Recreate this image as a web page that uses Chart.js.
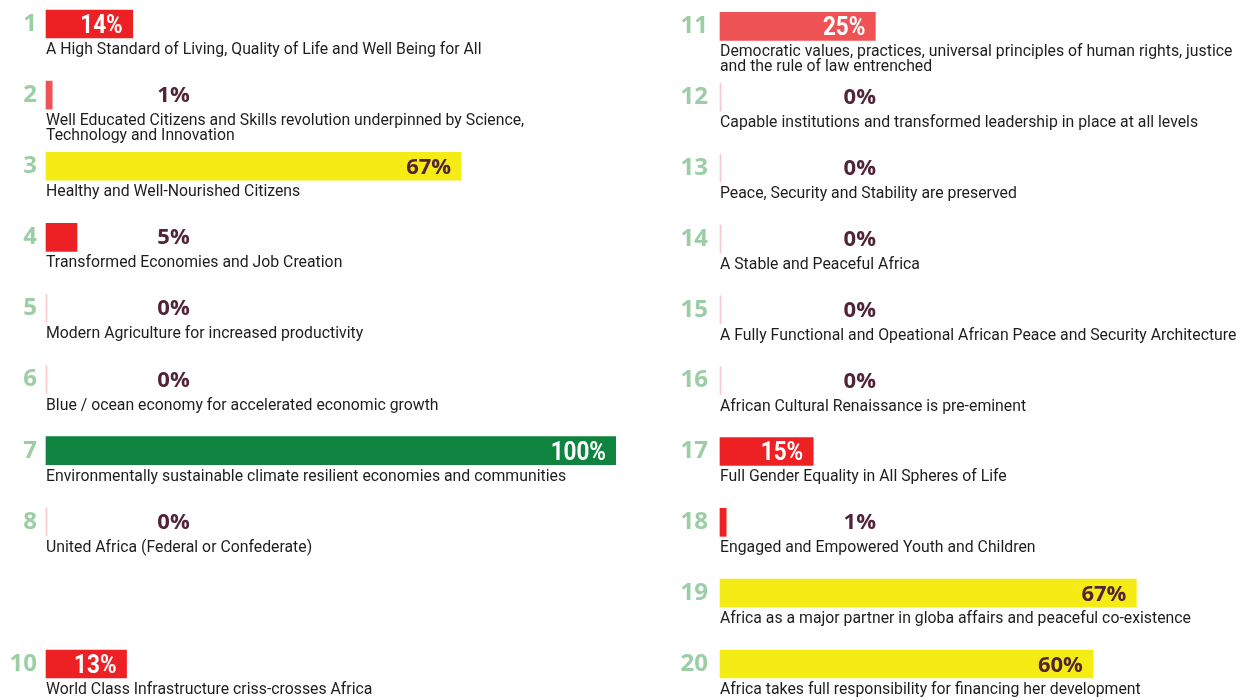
<!DOCTYPE html>
<html>
<head>
<meta charset="utf-8">
<script src="https://cdn.jsdelivr.net/npm/chart.js@4.4.1/dist/chart.umd.min.js"></script>
<style>
  html, body { margin: 0; padding: 0; background: #fff; }
  #wrap { position: relative; width: 1252px; height: 699px; overflow: hidden; }
  .col { position: absolute; top: 0; width: 626px; height: 699px; }
  #colLeft { left: 0; }
  #colRight { left: 626px; }
</style>
</head>
<body>
<div id="wrap">
  <div class="col" id="colLeft"><canvas id="leftChart"></canvas></div>
  <div class="col" id="colRight"><canvas id="rightChart"></canvas></div>
</div>
<script>
// ==================== DATA ====================
// goal 9 has no figure, so its row stays empty
const leftGoals = ['1', '2', '3', '4', '5', '6', '7', '8', '9', '10'];
const leftProgress = [14, 1, 67, 5, 0, 0, 100, 0, null, 13];
const leftTexts = [
    'A High Standard of Living, Quality of Life and Well Being for All',
    'Well Educated Citizens and Skills revolution underpinned by Science,\nTechnology and Innovation',
    'Healthy and Well-Nourished Citizens',
    'Transformed Economies and Job Creation',
    'Modern Agriculture for increased productivity',
    'Blue / ocean economy for accelerated economic growth',
    'Environmentally sustainable climate resilient economies and communities',
    'United Africa (Federal or Confederate)',
    '',
    'World Class Infrastructure criss-crosses Africa'
];

const rightGoals = ['11', '12', '13', '14', '15', '16', '17', '18', '19', '20'];
const rightProgress = [25, 0, 0, 0, 0, 0, 15, 1, 67, 60];
const rightTexts = [
    'Democratic values, practices, universal principles of human rights, justice\nand the rule of law entrenched',
    'Capable institutions and transformed leadership in place at all levels',
    'Peace, Security and Stability are preserved',
    'A Stable and Peaceful Africa',
    'A Fully Functional and Opeational African Peace and Security Architecture',
    'African Cultural Renaissance is pre-eminent',
    'Full Gender Equality in All Spheres of Life',
    'Engaged and Empowered Youth and Children',
    'Africa as a major partner in globa affairs and peaceful co-existence',
    'Africa takes full responsibility for financing her development'
];

// ==================== STYLE ====================
const RED = '#ed2024';
const SOFT_RED = '#f05356';
const YELLOW = '#f6ec15';
const GREEN = '#0f8441';
const ZERO = '#f7c9cc';
const MAROON = '#522438';
const GOAL_GREEN = '#9bcea5';
const INK = '#1f1c1d';

const leftColors = [RED, SOFT_RED, YELLOW, RED, ZERO, ZERO, GREEN, ZERO, ZERO, RED];
const rightColors = [SOFT_RED, ZERO, ZERO, ZERO, ZERO, ZERO, RED, RED, YELLOW, YELLOW];

const FONT_TIGHT = 'bold 25px Roboto';
const FONT_WIDE = 'bold 22px "Open Sans"';
const FONT_DESC = '17px Roboto';

function drawText(ctx, text, x, y, align, font, color, squeeze) {
    ctx.save();
    ctx.font = font;
    ctx.fillStyle = color;
    ctx.textAlign = align;
    ctx.textBaseline = 'alphabetic';
    ctx.translate(x, y);
    ctx.scale(squeeze, 1);
    ctx.fillText(text, 0, 0);
    ctx.restore();
}

// percent figures + goal descriptions under each bar
const goalLabels = {
    id: 'goalLabels',
    afterDatasetsDraw(chart, args, opts) {
        const ctx = chart.ctx;
        const area = chart.chartArea;
        const xScale = chart.scales.x;
        const ds = chart.data.datasets[0];
        chart.getDatasetMeta(0).data.forEach((bar, i) => {
            const v = ds.data[i];
            if (v == null) return;
            const y = bar.y;
            const label = v + '%';
            if (v >= 10) {
                const x = Math.min(bar.x, area.right) - 10;
                if (ds.backgroundColor[i] === YELLOW) {
                    drawText(ctx, label, x, y + 8, 'right', FONT_WIDE, MAROON, 1);
                } else {
                    drawText(ctx, label, x, y + 9, 'right', FONT_TIGHT, '#fff', 0.9);
                }
            } else {
                drawText(ctx, label, xScale.getPixelForValue(opts.outsideAt), y + 7, 'right', FONT_WIDE, MAROON, 1);
            }
            opts.texts[i].split('\n').forEach((line, k) => {
                drawText(ctx, line, area.left, y + 30 + k * 15, 'left', FONT_DESC, INK, 0.93);
            });
        });
    }
};

function buildChart(canvasId, goals, values, colors, texts, axisWidth, tickPad, xMax, outsideAt) {
    const ctx = document.getElementById(canvasId).getContext('2d');
    return new Chart(ctx, {
        type: 'bar',
        data: {
            labels: goals,
            datasets: [{
                data: values,
                backgroundColor: colors,
                borderWidth: 0,
                barThickness: 28,
                minBarLength: 1,
                // only the right edge trims the over-long bar
                clip: { left: false, top: false, right: 0, bottom: false }
            }]
        },
        options: {
            indexAxis: 'y',
            responsive: true,
            maintainAspectRatio: false,
            animation: false,
            layout: { padding: { top: 24, bottom: 35, left: 0, right: 10 } },
            plugins: {
                legend: { display: false },
                tooltip: { enabled: false },
                goalLabels: { texts: texts, outsideAt: outsideAt }
            },
            scales: {
                x: { display: false, min: 0, max: xMax },
                y: {
                    offset: false,
                    grid: { display: false, drawTicks: false },
                    border: { display: false },
                    ticks: {
                        color: GOAL_GREEN,
                        font: { family: 'Open Sans', weight: 'bold', size: 24 },
                        padding: tickPad,
                        autoSkip: false,
                        callback: (v, i) => values[i] == null ? '' : goals[i]
                    },
                    afterFit: scale => { scale.width = axisWidth; }
                }
            }
        },
        plugins: [goalLabels]
    });
}

// ==================== INIT ====================
buildChart('leftChart', leftGoals, leftProgress, leftColors, leftTexts, 46, 9, 92, 23.2);
buildChart('rightChart', rightGoals, rightProgress, rightColors, rightTexts, 94, 12, 84, 25.1);
</script>
</body>
</html>
